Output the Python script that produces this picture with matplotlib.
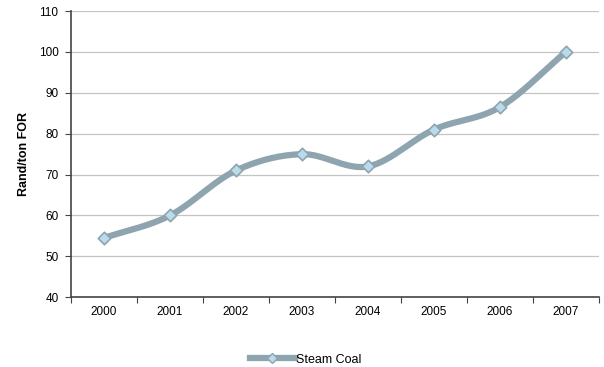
import numpy as np
import matplotlib.pyplot as plt
from matplotlib.lines import Line2D

plt.rcParams['font.family'] = ['Liberation Sans', 'DejaVu Sans']

years = ['2000', '2001', '2002', '2003', '2004', '2005', '2006', '2007']
steam_coal = [54.5, 60.0, 71.0, 75.0, 72.0, 81.0, 86.5, 100.0]

LINE_COLOR = '#8ea4ae'
MARKER_FACE = '#b9dbec'


def smooth(xs, ys, steps=30):
    # Catmull-Rom curve through the points, like a spreadsheet "smoothed line"
    px = np.concatenate([[2 * xs[0] - xs[1]], xs, [2 * xs[-1] - xs[-2]]])
    py = np.concatenate([[2 * ys[0] - ys[1]], ys, [2 * ys[-1] - ys[-2]]])
    out_x, out_y = [], []
    t = np.linspace(0, 1, steps)
    for i in range(1, len(px) - 2):
        for p, out in ((px, out_x), (py, out_y)):
            p0, p1, p2, p3 = p[i - 1], p[i], p[i + 1], p[i + 2]
            seg = 0.5 * ((2 * p1) + (-p0 + p2) * t
                         + (2 * p0 - 5 * p1 + 4 * p2 - p3) * t ** 2
                         + (-p0 + 3 * p1 - 3 * p2 + p3) * t ** 3)
            out.extend(seg)
    return np.array(out_x), np.array(out_y)


x = np.arange(len(years), dtype=float)
sx, sy = smooth(x, np.array(steam_coal))

fig = plt.figure(figsize=(6.04, 3.67), dpi=100)
ax = fig.add_axes([0.1175, 0.19, 0.874, 0.78])

ax.plot(sx, sy, color=LINE_COLOR, lw=4.5, solid_capstyle='round', zorder=3)
ax.scatter(x, steam_coal, marker='D', s=40, facecolor=MARKER_FACE,
           edgecolor=LINE_COLOR, linewidths=1.2, zorder=4)

ax.set_xlim(-0.5, len(years) - 0.5)
ax.set_ylim(40, 110)
ax.set_yticks(range(40, 111, 10))
ax.yaxis.grid(True, color='#c4c4c4', lw=0.9)
ax.set_axisbelow(True)

# tick marks sit between categories, labels in the middle
ax.set_xticks(np.arange(-0.5, len(years), 1.0))
ax.set_xticklabels([])
ax.set_xticks(x, minor=True)
ax.set_xticklabels(years, minor=True)
ax.tick_params(axis='x', which='minor', length=0, pad=6, labelsize=8.5)
ax.tick_params(axis='x', which='major', length=4, direction='out', color='#444444')
ax.tick_params(axis='y', length=4, direction='out', color='#444444', labelsize=8.5, pad=5)

for side in ('top', 'right'):
    ax.spines[side].set_visible(False)
for side in ('left', 'bottom'):
    ax.spines[side].set_color('#444444')
    ax.spines[side].set_linewidth(1.2)

ax.set_ylabel('Rand/ton FOR', fontsize=9, fontweight='bold', labelpad=6)

handle = Line2D([], [], color=LINE_COLOR, lw=4.5, marker='D', markersize=5,
                markerfacecolor=MARKER_FACE, markeredgecolor=LINE_COLOR)
fig.legend([handle], ['Steam Coal'], loc='center', bbox_to_anchor=(0.506, 0.02),
           frameon=False, fontsize=9, handlelength=3.6, handletextpad=0.1)

fig.savefig('out.png', dpi=100)
